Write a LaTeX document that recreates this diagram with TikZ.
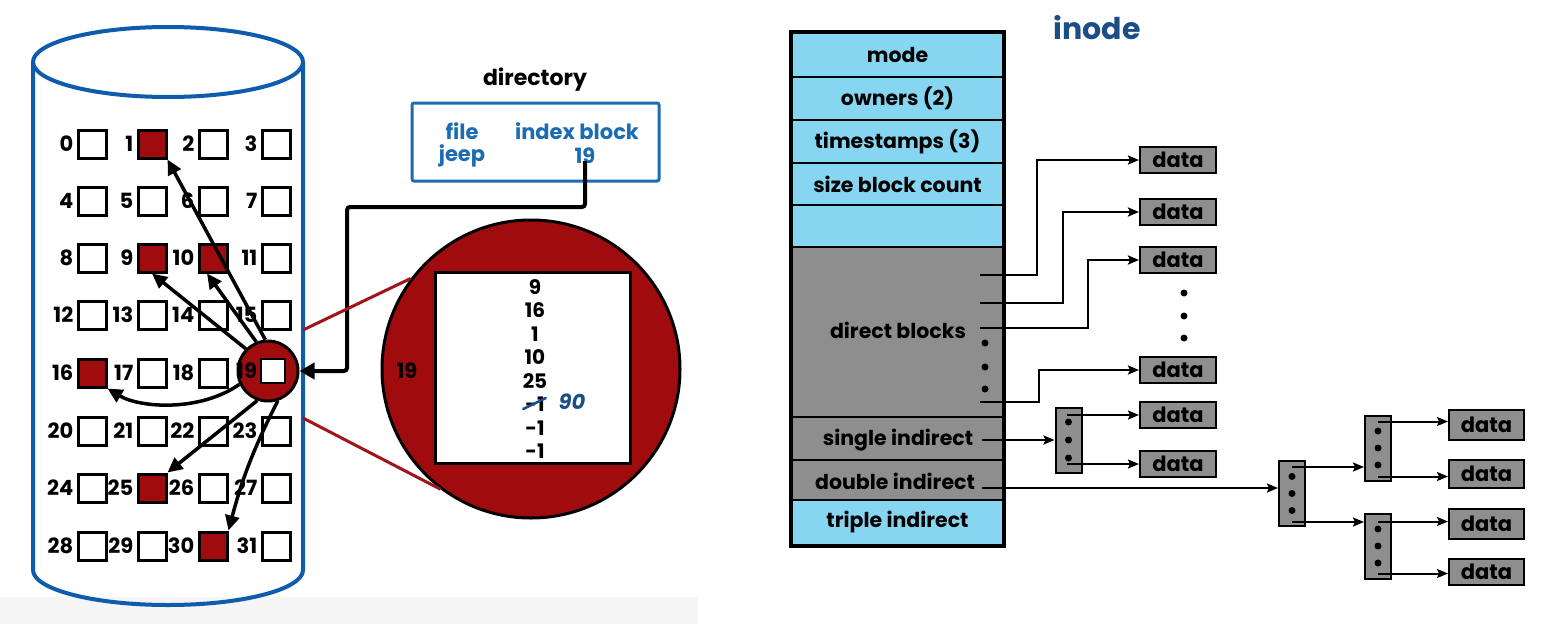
\documentclass[tikz,border=0pt]{standalone}
\usepackage{fontspec}
\setmainfont{Poppins}
\usetikzlibrary{arrows.meta,calc}
\definecolor{dred}{HTML}{A00C0E}
\definecolor{dblue}{HTML}{0E5CAB}
\definecolor{tblue}{HTML}{1C6CB4}
\definecolor{lblue}{HTML}{86D6F2}
\definecolor{mgray}{HTML}{8E8E8E}
\definecolor{hblue}{HTML}{1B4D86}
\definecolor{zred}{HTML}{A0141A}
\tikzset{
  blk/.style={draw=black, line width=3pt, minimum size=28pt, inner sep=0pt, fill=white},
  used/.style={blk, fill=dred},
  num/.style={font=\fontsize{21}{21}\selectfont\bfseries, inner sep=0pt, anchor=east},
  ptr/.style={line width=3.5pt, -{Triangle[length=15pt,width=14pt]}},
  idxnum/.style={font=\fontsize{20}{20}\selectfont\bfseries, inner sep=0pt},
  dirtxt/.style={font=\fontsize{21}{21}\selectfont\bfseries, text=tblue, inner sep=0pt},
  rowbox/.style={draw=black, line width=2.5pt, minimum width=211pt, inner sep=0pt, font=\fontsize{20.5}{20.5}\selectfont\bfseries},
  rowtxt/.style={font=\fontsize{20.5}{20.5}\selectfont\bfseries, inner sep=0pt},
  databox/.style={draw=black, line width=2pt, fill=mgray, minimum width=76pt, minimum height=26pt, inner sep=0pt, font=\fontsize{21}{21}\selectfont\bfseries},
  ibox/.style={draw=black, line width=2pt, fill=mgray, minimum width=26pt, minimum height=65pt, inner sep=0pt},
  iptr/.style={line width=2pt, -{Stealth[length=11pt,width=9pt,inset=2pt]}},
  stub/.style={line width=2.5pt},
  dot/.style={circle, fill=black, minimum size=7pt, inner sep=0pt},
}
\begin{document}
\begin{tikzpicture}[x=1pt,y=-1pt]
\useasboundingbox (0,0) rectangle (1555,624);
\fill[white] (0,0) rectangle (1555,624);
\fill[black!4] (0,597) rectangle (698,624);

% ---------- cylinder ----------
\draw[dblue, line width=4pt] (33,62) -- (33,570) arc[start angle=180, end angle=360, x radius=135pt, y radius=35pt] -- (303,62);
\draw[dblue, line width=4pt] (168,62) ellipse [x radius=135pt, y radius=35pt];

% zoom lines
\coordinate (zu) at (303,330);
\coordinate (zl) at (303,418);

% circle around 19
\node[circle, fill=dred, draw=black, line width=3pt, minimum size=60pt, inner sep=0pt] (c19) at (268,371) {};

% grid of blocks
\foreach \r/\y in {0/144,1/201,2/258,3/315,4/373,5/431,6/488,7/546}{
  \foreach \c/\x in {0/92,1/152,2/213,3/276}{
    \pgfmathtruncatemacro{\n}{4*\r+\c}
    \ifnum\n=19\relax
      \node[blk, line width=1.5pt, minimum size=24pt] (b\n) at (\x-3,\y-2) {};
    \else
      \node[blk] (b\n) at (\x,\y) {};
    \fi
    \node[num] (l\n) at ([xshift=-3pt]b\n.west) {\n};
  }
}
\foreach \n in {1,9,10,16,25,30}{ \node[used] at (b\n) {}; }

% pointers from index block 19
\draw[ptr] (c19.95) -- (b1.south east);
\draw[ptr] (c19.112) -- ([xshift=-6pt]b10.south);
\draw[ptr] (c19.135) -- (b9.south);
\draw[ptr] (c19.205) .. controls (200,412) and (140,408) .. (b16.south east);
\draw[ptr] (c19.250) -- (b25.north east);
\draw[ptr] (c19.288) to[bend right=6] (b30.north east);

% ---------- directory ----------
\node[font=\fontsize{22}{22}\selectfont\bfseries, inner sep=0pt] (dirt) at (535,80) {directory};
\node[draw=tblue, line width=3pt, rounded corners=2pt, minimum width=247pt, minimum height=78pt, inner sep=0pt] (dir) at (535.5,142) {};
\node[dirtxt] (df) at (462,131) {file};
\node[dirtxt] (dj) at (462,156) {jeep};
\node[dirtxt] (di) at (577,131) {index block};
\node[dirtxt] (d19) at (585,156) {19};
\draw[line width=4pt, rounded corners=3pt, -{Triangle[length=15pt,width=16pt]}] ([yshift=3pt]d19.south) |- (347,207) |- (c19.east);

% ---------- zoomed index block ----------
\node[circle, draw=black, line width=3pt, fill=dred, minimum size=298pt, inner sep=0pt] (big) at (531,369) {};
\draw[zred, line width=3pt] (zu) -- (big.143);
\draw[zred, line width=3pt] (zl) -- (big.233);
\node[draw=black, line width=3pt, fill=white, minimum width=195pt, minimum height=191pt, inner sep=0pt] (idx) at (532.5,367.5) {};
\node[font=\fontsize{21}{21}\selectfont\bfseries, inner sep=0pt] (big19) at (407,371) {19};
\foreach \t [count=\i] in {9,16,1,10,25,-1,-1,-1}{
  \node[idxnum] (e\i) at (535,287+23.5*\i-23.5) {\t};
}
\draw[hblue, line width=2.5pt, line cap=round] ([xshift=-2pt,yshift=3pt]e6.south west) -- ([xshift=1pt,yshift=-1pt]e6.north east);
\node[font=\fontsize{21}{21}\selectfont\bfseries\itshape, text=hblue, inner sep=0pt] (ninety) at (572,402) {90};

% ---------- inode ----------
\node[font=\fontsize{30}{30}\selectfont\bfseries, text=hblue, inner sep=0pt] (inode) at (1097,28) {inode};

\node[rowbox, fill=lblue, minimum height=44pt] (r1) at (897.5,55) {mode};
\node[rowbox, fill=lblue, minimum height=43pt] (r2) at (897.5,98.5) {owners (2)};
\node[rowbox, fill=lblue, minimum height=43pt] (r3) at (897.5,141.5) {timestamps (3)};
\node[rowbox, fill=lblue, minimum height=42pt] (r4) at (897.5,184) {size block count};
\node[rowbox, fill=lblue, minimum height=42pt] (r5) at (897.5,226) {};
\node[rowbox, fill=mgray, minimum height=170pt] (r6) at (897.5,332) {};
\node[rowbox, fill=mgray, minimum height=43pt] (r7) at (897.5,438.5) {};
\node[rowbox, fill=mgray, minimum height=40pt] (r8) at (897.5,480) {};
\node[rowbox, fill=lblue, minimum height=45pt] (r9) at (897.5,522.5) {triple indirect};
\node[rowtxt] (t6) at (898,330) {direct blocks};
\node[rowtxt] (t7) at (898,440) {single indirect};
\node[rowtxt] (t8) at (895,481) {double indirect};
\draw[line width=4pt] (r1.north west) rectangle (r9.south east);

% direct data blocks
\node[databox] (d1) at (1178,160) {data};
\node[databox] (d2) at (1178,212) {data};
\node[databox] (d3) at (1178,260) {data};
\node[databox] (d4) at (1178,370) {data};
\node[databox] (d5) at (1178,415) {data};
\node[databox] (d6) at (1178,464) {data};
\foreach \y in {293,316,338}{ \node[dot] at (1184,\y) {}; }
\foreach \y in {343,367,389}{ \node[dot] at (985,\y) {}; }

\coordinate (s1) at (980,275);
\coordinate (s2) at (980,303);
\coordinate (s3) at (980,328);
\coordinate (s4) at (980,402);
\draw[iptr, stub] (s1) -- ++(57,0) |- (d1.west);
\draw[iptr, stub] (s2) -- ++(83,0) |- (d2.west);
\draw[iptr, stub] (s3) -- ++(108,0) |- (d3.west);
\draw[iptr, stub] (s4) -- ++(59,0) |- (d4.west);

% single indirect
\node[ibox] (ib) at (1068.5,440) {};
\foreach \y in {-18,0,18}{ \node[dot] at ([yshift=\y pt]ib.center) {}; }
\coordinate (si) at (982,440);
\draw[iptr, stub] (si) -- (ib.west);
\draw[iptr] (ib.center |- d5.west) ++(-2,0) -- (d5.west);
\draw[iptr] (ib.center |- d6.west) ++(-2,0) -- (d6.west);

% double indirect
\node[ibox] (l1) at (1292,493.5) {};
\node[ibox] (l2a) at (1378,448) {};
\node[ibox] (l2b) at (1378,546) {};
\foreach \b in {l1,l2a,l2b}{ \foreach \y in {-17,0,17}{ \node[dot] at ([yshift=\y pt]\b.center) {}; } }
\node[databox, minimum width=75pt, minimum height=30pt] (e1) at (1486.5,425) {data};
\node[databox, minimum width=75pt, minimum height=28pt] (e2) at (1486.5,474) {data};
\node[databox, minimum width=75pt, minimum height=30pt] (e3) at (1486.5,524) {data};
\node[databox, minimum width=75pt, minimum height=26pt] (e4) at (1486.5,572) {data};
\coordinate (dd) at (982,488);
\draw[iptr] (dd) -- (l1.west |- dd);
\draw[iptr] ($(l1.north)+(0,7)$) -- (l2a.west |- {$(l1.north)+(0,7)$});
\draw[iptr] ($(l1.south)+(0,-5)$) -- (l2b.west |- {$(l1.south)+(0,-5)$});
\draw[iptr] ($(l2a.north)+(0,7)$) -- (e1.west |- {$(l2a.north)+(0,7)$});
\draw[iptr] ($(l2a.south)+(0,-5)$) -- (e2.west |- {$(l2a.south)+(0,-5)$});
\draw[iptr] ($(l2b.north)+(0,9)$) -- (e3.west |- {$(l2b.north)+(0,9)$});
\draw[iptr] ($(l2b.south)+(0,-6)$) -- (e4.west |- {$(l2b.south)+(0,-6)$});
\end{tikzpicture}
\end{document}
